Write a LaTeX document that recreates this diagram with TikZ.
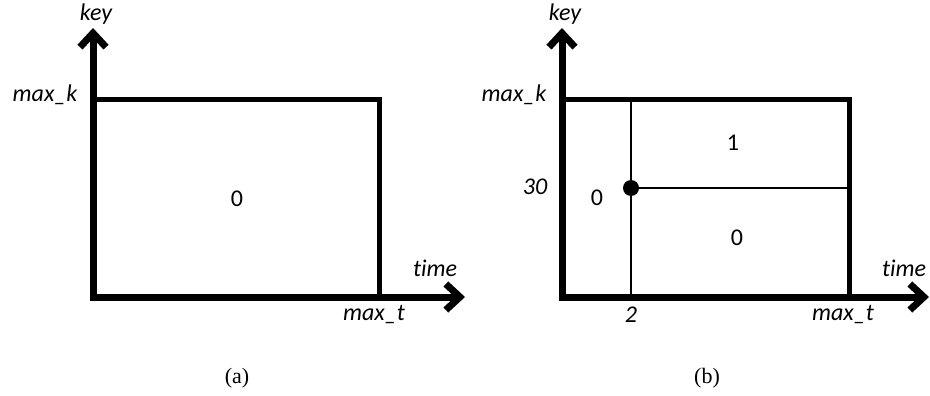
\documentclass[tikz,border=0pt]{standalone}
\usepackage{fontspec}
\setmainfont{Liberation Serif}
\newfontfamily\lab[Ligatures=NoCommon]{Carlito}
\usetikzlibrary{arrows.meta}
\begin{document}
\begin{tikzpicture}[x=1pt,y=-1pt,
 axis/.style={line width=7pt, {Straight Barb[length=14pt,width=26pt]}-{Straight Barb[length=14pt,width=26pt]}},
 bound/.style={line width=4.5pt},
 thinline/.style={line width=2.5pt},
 lbl/.style={font=\lab\itshape\fontsize{24}{26}\selectfont, anchor=base, inner sep=0pt},
 val/.style={font=\lab\fontsize{24}{26}\selectfont, anchor=base, inner sep=0pt},
 capt/.style={font=\fontsize{22}{25}\selectfont, anchor=base, inner sep=0pt}]
\useasboundingbox (0,0) rectangle (930,396);
% ---------- panel (a)
\coordinate (oa) at (93,297);
\coordinate (ya) at (93,28);
\coordinate (xa) at (465,297);
\coordinate (ka) at (93,99.5);
\coordinate (ca) at (379.5,99.5);
\coordinate (ta) at (379.5,297);
\draw[bound] (ka) -- (ca) -- (ta);
\draw[axis] (ya) -- (oa) -- (xa);
\node[lbl] (keya) at (96,21) {key};
\node[lbl] (maxka) at (45,102) {max\_k};
\node[lbl] (timea) at (435,276) {time};
\node[lbl] (maxta) at (374,320) {max\_t};
\node[val] (za) at (237,206) {0};
\node[capt] (capa) at (237,383) {(a)};
% ---------- panel (b)
\coordinate (ob) at (562,297);
\coordinate (yb) at (562,28);
\coordinate (xb) at (929,297);
\coordinate (kb) at (562,99.5);
\coordinate (cb) at (849.5,99.5);
\coordinate (tb) at (849.5,297);
\coordinate (vt) at (631,99.5);
\coordinate (vb) at (631,297);
\coordinate (dot) at (631,188);
\coordinate (hr) at (849.5,188);
\draw[thinline] (vt) -- (vb);
\draw[thinline] (dot) -- (hr);
\draw[bound] (kb) -- (cb) -- (tb);
\draw[axis] (yb) -- (ob) -- (xb);
\fill (dot) circle (8);
\node[lbl] (keyb) at (565,21) {key};
\node[lbl] (maxkb) at (514,102) {max\_k};
\node[lbl] (thirty) at (535,194) {30};
\node[lbl] (two) at (631,322) {2};
\node[lbl] (timeb) at (904,276) {time};
\node[lbl] (maxtb) at (843,320) {max\_t};
\node[val] (zl) at (597,205) {0};
\node[val] (one) at (733,150) {1};
\node[val] (zr) at (737,245) {0};
\node[capt] (capb) at (707,383) {(b)};
\end{tikzpicture}
\end{document}
